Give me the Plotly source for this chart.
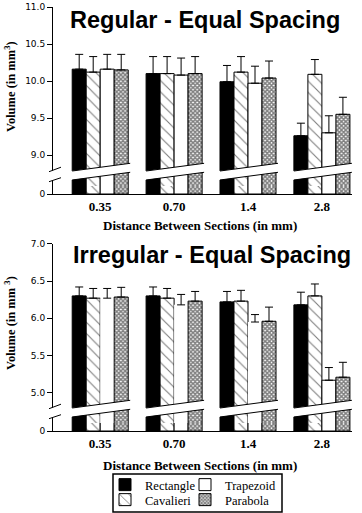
import plotly.graph_objects as go

# ---------------- data ----------------
categories = ["0.35", "0.70", "1.4", "2.8"]
methods = ["Rectangle", "Cavalieri", "Trapezoid", "Parabola"]

# Regular - Equal Spacing (volume in mm^3), upward error
reg_rectangle = [10.16, 10.10, 9.99, 9.26]
reg_rectangle_err = [0.20, 0.23, 0.22, 0.17]
reg_cavalieri = [10.12, 10.10, 10.12, 10.09]
reg_cavalieri_err = [0.21, 0.23, 0.21, 0.20]
reg_trapezoid = [10.16, 10.08, 9.97, 9.30]
reg_trapezoid_err = [0.20, 0.23, 0.23, 0.23]
reg_parabola = [10.15, 10.10, 10.04, 9.55]
reg_parabola_err = [0.21, 0.23, 0.23, 0.23]
reg_ref_mean = 10.16
reg_ref_low = 10.00
reg_ref_high = 10.32
reg_ticks = [9.0, 9.5, 10.0, 10.5, 11.0]

# Irregular - Equal Spacing
irr_rectangle = [6.30, 6.30, 6.22, 6.18]
irr_rectangle_err = [0.12, 0.12, 0.14, 0.17]
irr_cavalieri = [6.27, 6.27, 6.23, 6.30]
irr_cavalieri_err = [0.13, 0.13, 0.145, 0.16]
irr_trapezoid = [6.27, 6.18, 5.95, 5.17]
irr_trapezoid_err = [0.13, 0.14, 0.10, 0.17]
irr_parabola = [6.285, 6.23, 5.96, 5.21]
irr_parabola_err = [0.13, 0.13, 0.19, 0.20]
irr_ref_mean = 6.31
irr_ref_low = 6.21
irr_ref_high = 6.40
irr_ticks = [5.0, 5.5, 6.0, 6.5, 7.0]

# ---------------- layout helpers ----------------
W, H = 362, 513
ML, MR = 53, 10
PW = W - ML - MR


def py(p):
    return 1 - p / H


def px(p):
    return (p - ML) / PW


x_pos = list(range(len(categories)))
GROUP_SPACING = 73.9          # px per category
X_LEFT = -(100.2 - ML) / GROUP_SPACING
X_RIGHT = (ML + PW - 100.2) / GROUP_SPACING
HALF_GROUP = 28 / GROUP_SPACING

styles = {
    "Rectangle": dict(color="black"),
    "Cavalieri": dict(color="white", pattern=dict(shape="\\", size=8, solidity=0.14,
                                                   fgcolor="black", bgcolor="white")),
    "Trapezoid": dict(color="white"),
    "Parabola": dict(color="white", pattern=dict(shape="x", size=3, solidity=0.75,
                                                  fgcolor="black", bgcolor="white")),
}
# one single-item legend per cell of the 2x2 legend box
legend_of = {"Rectangle": "legend", "Trapezoid": "legend2",
             "Cavalieri": "legend3", "Parabola": "legend4"}
legend_pos = {"legend": (105, 485), "legend2": (185, 485),
              "legend3": (105, 500), "legend4": (185, 500)}

charts = [
    dict(name="reg", title="Regular - Equal Spacing",
         values=dict(Rectangle=(reg_rectangle, reg_rectangle_err),
                     Cavalieri=(reg_cavalieri, reg_cavalieri_err),
                     Trapezoid=(reg_trapezoid, reg_trapezoid_err),
                     Parabola=(reg_parabola, reg_parabola_err)),
         ref=(reg_ref_low, reg_ref_mean, reg_ref_high), ticks=reg_ticks,
         xa="x", ylow="y", yup="y2",
         zero_py=194, top_py=7, top_val=11.0, scale=74.0, up_bottom_py=186, low_top_py=170,
         title_py=20, title_x=205, ytitle_py=87, xtitle_py=225, ytitle="Volume (in mm<sup>3</sup>)"),
    dict(name="irr", title="Irregular - Equal Spacing",
         values=dict(Rectangle=(irr_rectangle, irr_rectangle_err),
                     Cavalieri=(irr_cavalieri, irr_cavalieri_err),
                     Trapezoid=(irr_trapezoid, irr_trapezoid_err),
                     Parabola=(irr_parabola, irr_parabola_err)),
         ref=(irr_ref_low, irr_ref_mean, irr_ref_high), ticks=irr_ticks,
         xa="x2", ylow="y3", yup="y4",
         zero_py=431, top_py=243.7, top_val=7.0, scale=74.6, up_bottom_py=423, low_top_py=407,
         title_py=255, title_x=212, ytitle_py=323, xtitle_py=465, ytitle="Volume (in mm <sup>3</sup>)"),
]

fig = go.Figure()
shapes = []
annotations = []
layout_axes = {}

for ci, ch in enumerate(charts):
    for m in methods:
        vals, errs = ch["values"][m]
        st = styles[m]
        line_w = 1
        if ch["name"] == "irr" and m == "Trapezoid":
            line_w = [0, 0, 0, 1]
        marker = dict(color=st["color"], line=dict(color="black", width=line_w))
        if "pattern" in st:
            marker["pattern"] = st["pattern"]
        # upper (broken-axis) segment with error bars
        fig.add_trace(go.Bar(
            x=x_pos, y=vals, name=m, xaxis=ch["xa"], yaxis=ch["yup"],
            marker=marker,
            error_y=dict(type="data", symmetric=False, array=errs,
                         arrayminus=[0] * len(errs), color="black", thickness=1, width=4),
            showlegend=(ci == 0), legend=legend_of[m],
            hoverinfo="skip"))
        # lower segment (0 .. break)
        fig.add_trace(go.Bar(
            x=x_pos, y=vals, name=m, xaxis=ch["xa"], yaxis=ch["ylow"],
            marker=dict(color=st["color"], line=dict(color="black", width=1),
                        **({"pattern": st["pattern"]} if "pattern" in st else {})),
            showlegend=False, hoverinfo="skip"))

    z = ch["zero_py"]
    up_range_bottom = ch["top_val"] - (ch["up_bottom_py"] - ch["top_py"]) / ch["scale"]
    xa_key = "xaxis" if ch["xa"] == "x" else "xaxis2"
    ylow_key = "yaxis" + ch["ylow"][1:]
    yup_key = "yaxis" + ch["yup"][1:]
    layout_axes[xa_key] = dict(
        domain=[0, 1], anchor=ch["ylow"], range=[X_LEFT, X_RIGHT],
        tickvals=x_pos, ticktext=categories, ticks="", showline=True,
        linecolor="black", linewidth=1, showgrid=False, zeroline=False,
        tickfont=dict(family="Liberation Serif", size=13, color="black", weight="bold"),
    )
    layout_axes[ylow_key] = dict(
        domain=[py(z), py(ch["low_top_py"])], anchor=ch["xa"], range=[0, 1],
        tickvals=[0], ticktext=["0"], ticks="outside", ticklen=5, tickcolor="black",
        showline=True, linecolor="black", linewidth=1, showgrid=False, zeroline=False,
        tickfont=dict(family="DejaVu Sans", size=9, color="black"),
    )
    layout_axes[yup_key] = dict(
        domain=[py(ch["up_bottom_py"]), py(ch["top_py"])], anchor=ch["xa"],
        range=[up_range_bottom, ch["top_val"]],
        tickvals=ch["ticks"], ticktext=[f"{t:.1f}" for t in ch["ticks"]],
        ticks="outside", ticklen=5, tickcolor="black",
        showline=True, linecolor="black", linewidth=1, showgrid=False, zeroline=False,
        tickfont=dict(family="DejaVu Sans", size=9, color="black"),
    )

    lo, mean, hi = ch["ref"]
    shapes.append(dict(type="rect", xref=ch["xa"] + " domain", yref=ch["yup"],
                       x0=0, x1=1, y0=lo, y1=hi, fillcolor="#d3d3d3",
                       line=dict(width=0), layer="below"))
    shapes.append(dict(type="line", xref=ch["xa"] + " domain", yref=ch["yup"],
                       x0=0, x1=1, y0=mean, y1=mean,
                       line=dict(color="black", width=1), layer="below"))

    # break bands across each group
    for i in x_pos:
        x0 = i - HALF_GROUP
        x1 = i + HALF_GROUP + 2 / GROUP_SPACING
        xa0 = x0 - 1.2 / GROUP_SPACING
        t0, t1 = py(z - 23), py(z - 30.7)
        b0, b1 = py(z - 14), py(z - 21.7)
        shapes.append(dict(type="path", xref=ch["xa"], yref="paper",
                           path=f"M{xa0},{t0} L{x1},{t1} L{x1},{b1} L{xa0},{b0} Z",
                           fillcolor="white", line=dict(width=0), layer="above"))
        shapes.append(dict(type="line", xref=ch["xa"], yref="paper",
                           x0=x0, y0=t0, x1=x1, y1=t1,
                           line=dict(color="black", width=1), layer="above"))
        shapes.append(dict(type="line", xref=ch["xa"], yref="paper",
                           x0=x0, y0=b0, x1=x1, y1=b1,
                           line=dict(color="black", width=1), layer="above"))
    # break on the y axis line
    shapes.append(dict(type="path", xref="paper", yref="paper",
                       path=(f"M{px(47)},{py(z-21.5)} L{px(62)},{py(z-26.5)} "
                             f"L{px(62)},{py(z-16.5)} L{px(47)},{py(z-11.5)} Z"),
                       fillcolor="white", line=dict(width=0), layer="above"))
    shapes.append(dict(type="line", xref="paper", yref="paper",
                       x0=px(49), y0=py(z - 22.3), x1=px(61), y1=py(z - 26.8),
                       line=dict(color="black", width=1), layer="above"))
    shapes.append(dict(type="line", xref="paper", yref="paper",
                       x0=px(49), y0=py(z - 12.3), x1=px(61), y1=py(z - 16.3),
                       line=dict(color="black", width=1), layer="above"))

    annotations.append(dict(text=ch["title"], xref="paper", yref="paper",
                            x=px(ch["title_x"]), y=py(ch["title_py"]), showarrow=False,
                            xanchor="center", yanchor="middle",
                            font=dict(family="Liberation Sans", size=23.5, color="black",
                                      weight="bold")))
    annotations.append(dict(text=ch["ytitle"], xref="paper", yref="paper",
                            x=px(10), y=py(ch["ytitle_py"]), showarrow=False,
                            textangle=-90, xanchor="center", yanchor="middle",
                            font=dict(family="Liberation Serif", size=12.5, color="black",
                                      weight="bold")))
    annotations.append(dict(text="Distance Between Sections (in mm)", xref="paper",
                            yref="paper", x=px(200), y=py(ch["xtitle_py"]), showarrow=False,
                            xanchor="center", yanchor="middle",
                            font=dict(family="Liberation Serif", size=13, color="black",
                                      weight="bold")))

# legend frame
shapes.append(dict(type="rect", xref="paper", yref="paper",
                   x0=px(113), x1=px(282), y0=py(512), y1=py(474),
                   line=dict(color="black", width=1.5), fillcolor="rgba(0,0,0,0)", layer="above"))

legend_layout = {}
for key, (lx, ly) in legend_pos.items():
    legend_layout[key] = dict(
        orientation="v", x=px(lx), y=py(ly), xanchor="left", yanchor="middle",
        font=dict(family="Liberation Serif", size=12.5, color="black"),
        bgcolor="rgba(0,0,0,0)", borderwidth=0,
        itemclick=False, itemdoubleclick=False)

fig.update_layout(
    width=W, height=H,
    margin=dict(l=ML, r=MR, t=0, b=0, autoexpand=False),
    paper_bgcolor="white", plot_bgcolor="white",
    barmode="group", bargap=0.242, bargroupgap=0,
    shapes=shapes, annotations=annotations,
    **legend_layout,
    **layout_axes,
)

fig.write_html("out.html", config={"displayModeBar": False, "staticPlot": True},
               post_script="document.body.style.margin='0';document.body.style.padding='0';")
